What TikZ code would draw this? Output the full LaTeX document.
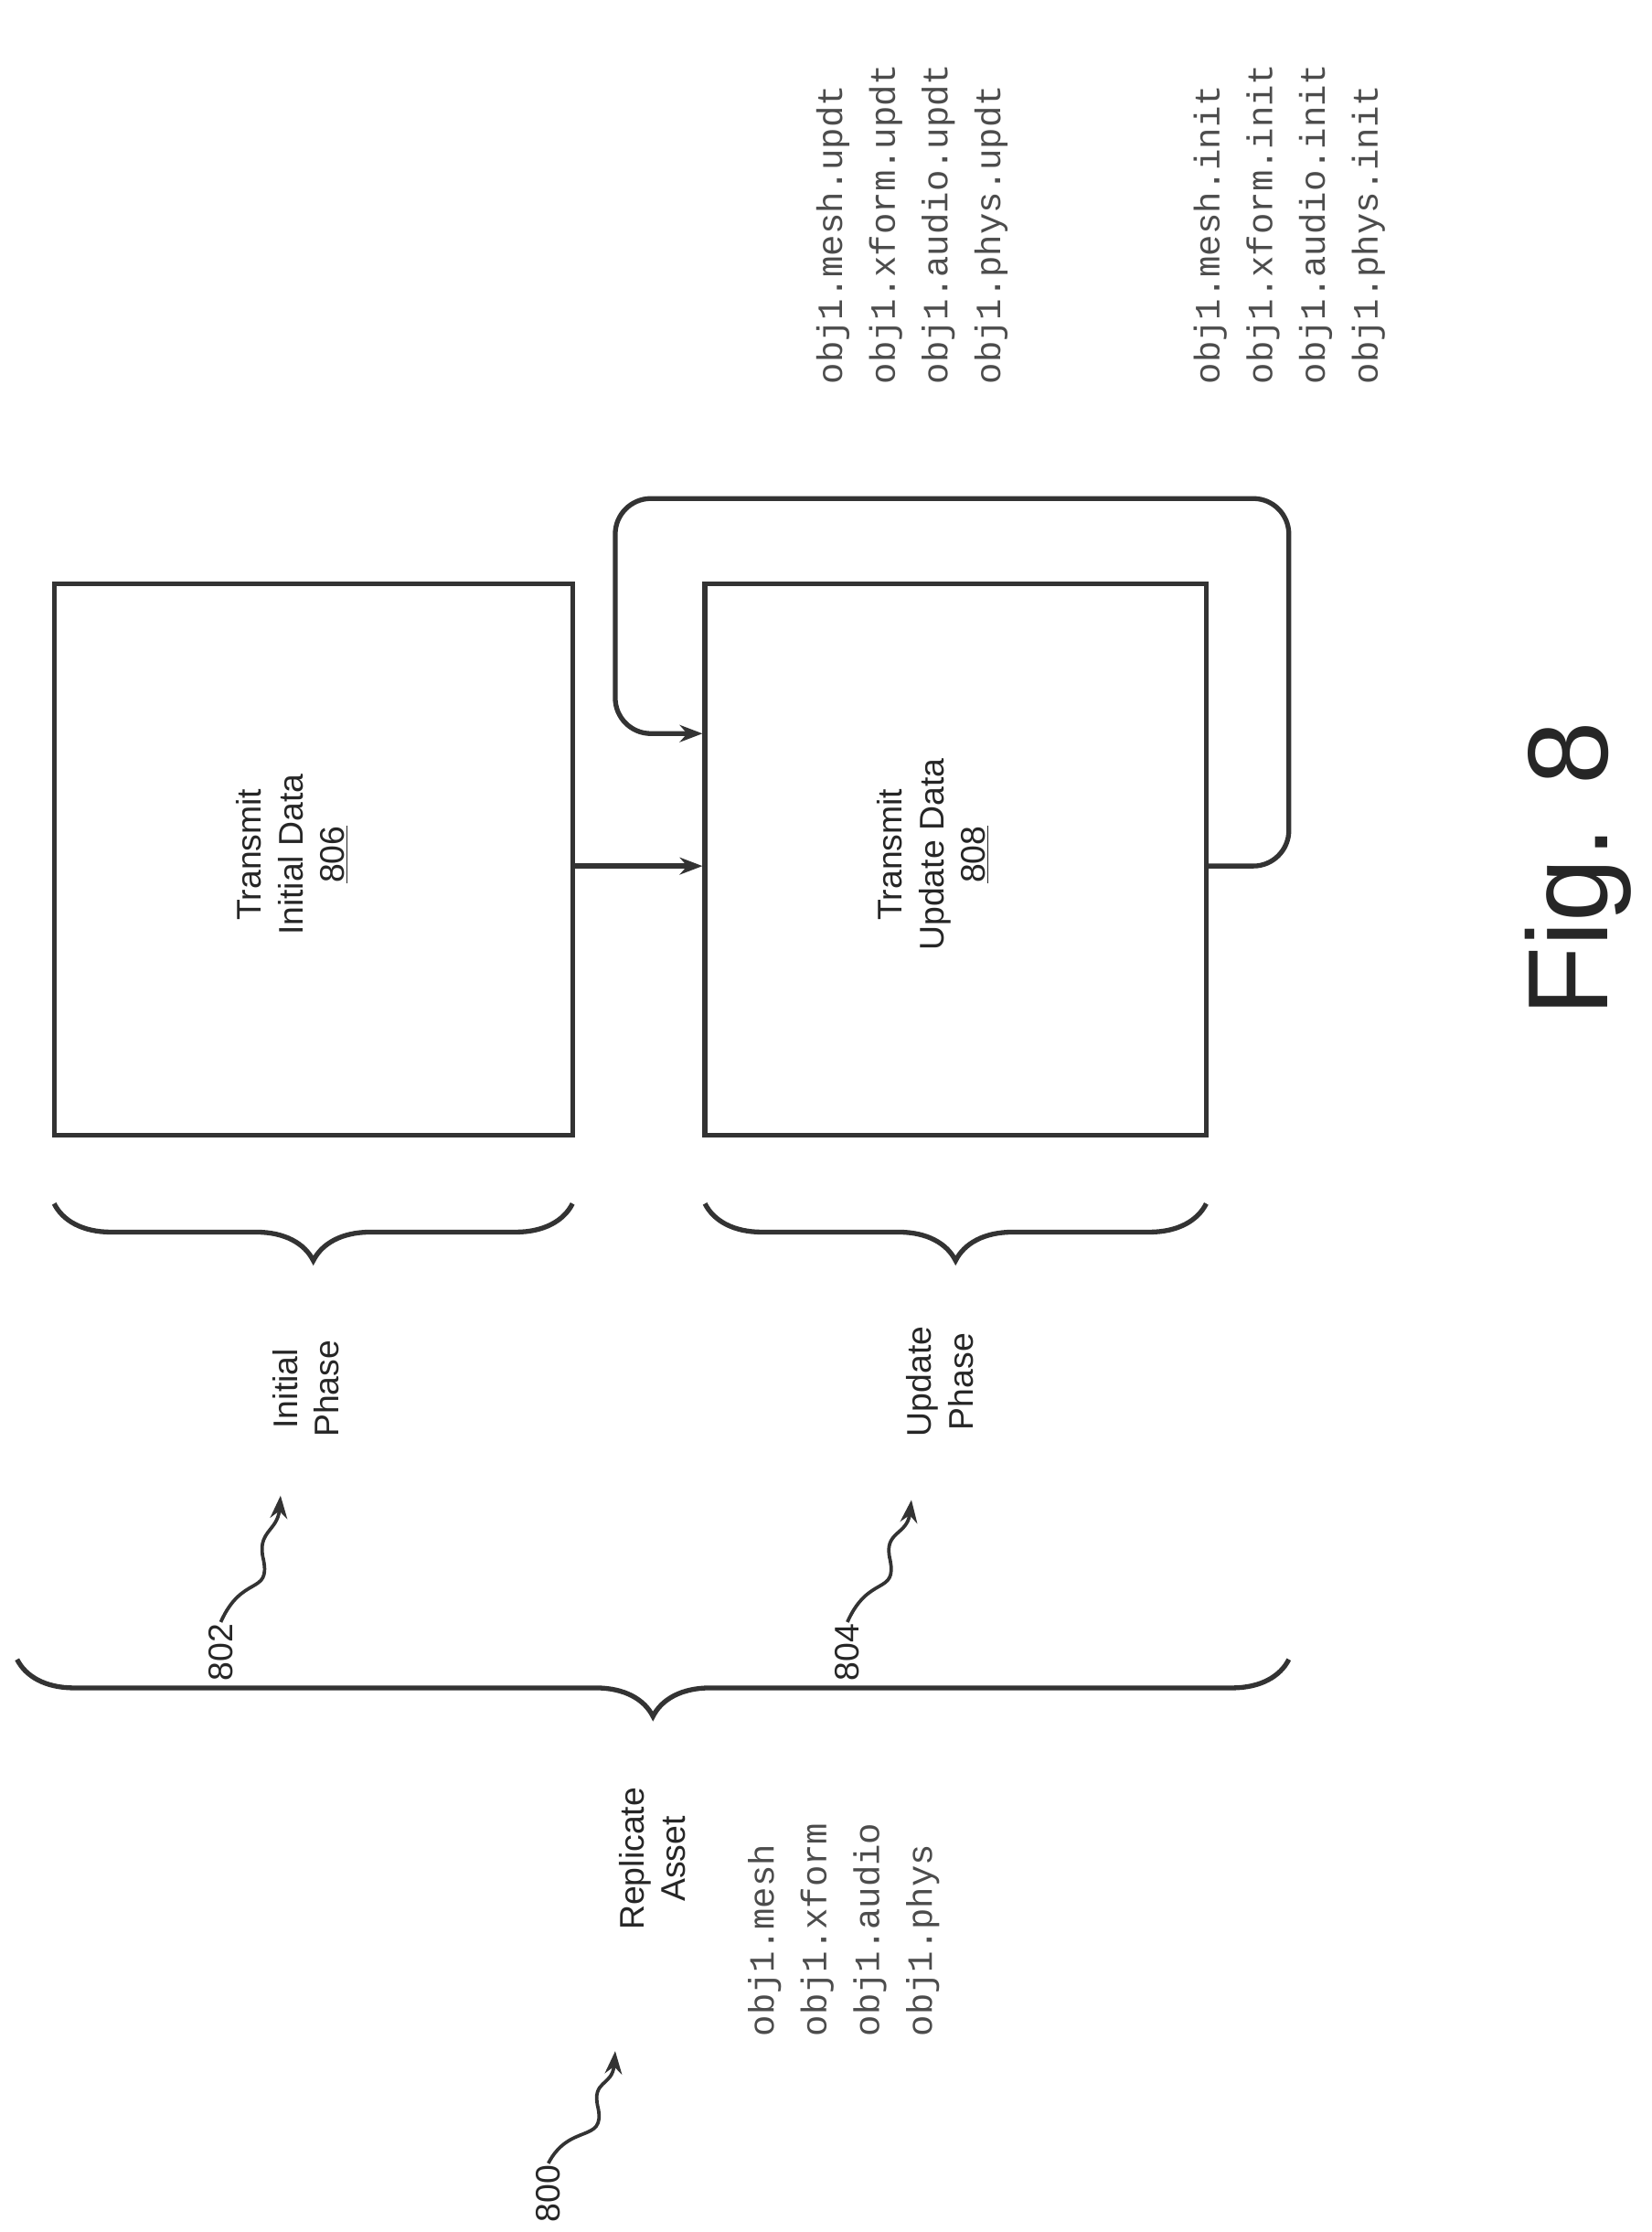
\documentclass[tikz,border=0pt]{standalone}
\usepackage{fontspec}
\setmainfont{Liberation Sans}
\newfontfamily\monof{Liberation Mono}
\usetikzlibrary{decorations.pathreplacing,arrows.meta}
\begin{document}
\begin{tikzpicture}[x=1pt,y=-1pt,
  ln/.style={draw=black!80,line width=3.4pt},
  rt/.style={rotate=90,font=\fontsize{24}{29}\selectfont,align=center,text=black!85},
  mono/.style={rotate=90,font=\monof\fontsize{25}{37}\selectfont,align=left,text=black!70},
  br/.style={ln,decorate,decoration={brace,amplitude=40pt}},
  arr/.style={ln,-{Stealth[length=16pt,width=12pt]}}]
\useasboundingbox (0,0) rectangle (1160,1567);
\node[ln,minimum width=364pt,minimum height=387pt,inner sep=0] (b806) at (220,603.5) {};
\node[ln,minimum width=352pt,minimum height=387pt,inner sep=0] (b808) at (671,603.5) {};
\node[rt] (t806) at (205,600) {Transmit\\Initial Data\\\underline{806}};
\node[rt] (t808) at (655,600) {Transmit\\Update Data\\\underline{808}};
\draw[arr] (b806.east |- 0,608) -- (b808.west |- 0,608);
\coordinate (lp) at (b808.west |- 0,515);
\draw[arr,rounded corners=25pt] (b808.east |- 0,608) -- (905,608) -- (905,350) -- (432,350) -- (432,515) -- (lp);
\draw[br] (402,845) -- (38,845);
\draw[br] (847,845) -- (495,845);
\draw[br] (905,1165) -- (12,1165);
\node[rt] (ip) at (215,975) {Initial\\Phase};
\node[rt] (up) at (660,970) {Update\\Phase};
\node[rt] (ra) at (458,1305) {Replicate\\Asset};
\node[mono,anchor=north west,inner sep=0] (l0) at (525,1430) {obj1.mesh\\obj1.xform\\obj1.audio\\obj1.phys};
\node[mono,anchor=north west,inner sep=0] (l1) at (838,270) {obj1.mesh.init\\obj1.xform.init\\obj1.audio.init\\obj1.phys.init};
\node[mono,anchor=north west,inner sep=0] (l2) at (573,270) {obj1.mesh.updt\\obj1.xform.updt\\obj1.audio.updt\\obj1.phys.updt};
\node[rt,inner sep=1pt] (n800) at (385,1540) {800};
\node[rt,inner sep=1pt] (n802) at (155,1160) {802};
\node[rt,inner sep=1pt] (n804) at (595,1160) {804};
\draw[arr,line width=2.4pt] (n800.east) .. controls (400,1490) and (425,1505) .. (420,1480) .. controls (415,1460) and (430,1465) .. (432,1440);
\draw[arr,line width=2.4pt] (n802.east) .. controls (170,1105) and (190,1120) .. (185,1095) .. controls (180,1075) and (195,1075) .. (197,1050);
\draw[arr,line width=2.4pt] (n804.east) .. controls (610,1105) and (630,1120) .. (625,1095) .. controls (620,1075) and (637,1078) .. (640,1053);
\node[rotate=90,font=\fontsize{80}{90}\selectfont,text=black!85] (fig) at (1108,610) {Fig. 8};
\end{tikzpicture}
\end{document}
